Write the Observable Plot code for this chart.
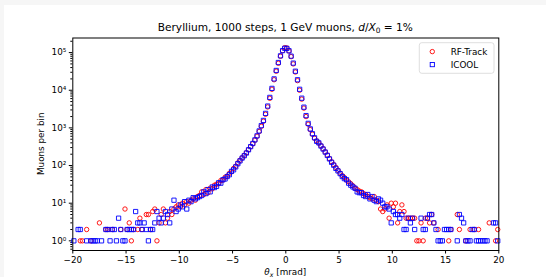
<!DOCTYPE html>
<html><head><meta charset="utf-8">
<script src="https://cdn.jsdelivr.net/npm/d3@7"></script>
<script src="https://cdn.jsdelivr.net/npm/@observablehq/plot@0.6"></script>
<style>
html,body{margin:0;padding:0;background:#f6f6f6;}
#wrap{position:relative;width:546px;height:277px;overflow:hidden;}
#bg{position:absolute;left:4px;top:5px;right:0;bottom:0;background:#fff;}
#chart{position:absolute;left:0;top:0;}
</style></head><body>
<div id="wrap"><div id="bg"></div><div id="chart"></div></div>
<script>
// histogram: 200 bins of 0.2 mrad from -20 to 20 mrad
const thetaMin = -20;
const binWidth = 0.2;

const rfTrack = [
  // -19.9 .. -0.1
  0,0,0,1,1,0,2,0,1,0, 0,0,3,0,0,2,2,0,2,0,
  0,0,2,0,7,2,3,1,2,0, 2,4,2,0,5,5,2,6,7,1,
  3,5,7,3,4,6,5,7,8,9, 8,10,9,11,10,12,13,12,15,16,
  20,17,23,19,25,24,30,32,33,40, 41,49,52,62,68,84,96,118,138,160,
  185,220,265,320,380,470,600,800,1100,1500, 2300,3600,6100,10600,19000,32000,52000,80000,112000,135000,
  // 0.1 .. 19.9
  133000,110000,78000,50000,30500,18000,10000,5800,3350,2000, 1250,900,680,530,450,395,335,280,230,190,
  153,126,106,89,75,63,54,48,41,37, 33,29,25,23,21,20,18,17,15,14,
  13,15,12,11,7,6,7,9,4,10, 8,10,3,6,9,6,4,4,4,4,
  4,1,1,3,1,4,4,3,5,3, 0,2,0,0,0,0,1,2,0,0,
  5,2,0,0,1,0,2,0,2,0, 2,0,0,0,0,3,0,0,1,2
];
const icool = [
  // -19.9 .. -0.1
  1,0,2,2,0,0,1,0,1,1, 1,1,0,1,0,2,2,1,2,2,
  1,4,2,1,1,2,2,2,2,6, 3,3,2,3,2,1,2,2,3,6,
  4,3,4,6,5,3,7,12,6,7, 9,8,11,7,12,11,14,13,14,15,
  16,20,18,23,20,27,26,28,35,34, 42,44,51,57,70,77,92,112,133,158,
  182,215,262,318,385,480,615,830,1150,1580, 2430,3800,6450,11200,20000,33500,54500,82000,113000,130000,
  // 0.1 .. 19.9
  129000,112000,80500,52500,32000,19000,10600,6150,3550,2120, 1320,940,700,545,440,400,330,275,228,186,
  150,122,102,84,72,61,51,45,42,34, 30,27,25,20,19,19,16,15,17,13,
  15,12,11,13,12,10,8,8,7,3, 6,5,5,4,5,2,2,4,3,4,
  2,0,0,4,2,2,4,5,5,3, 2,1,1,1,2,2,2,2,0,0,
  1,5,4,3,1,1,1,2,2,1, 1,1,1,1,1,0,0,3,3,1
];

const seriesNames = ["RF-Track", "ICOOL"];
const seriesColors = ["#ff0000", "#0000ff"];
const xTicks = [-20, -15, -10, -5, 0, 5, 10, 15, 20];
const yTicks = [1, 10, 100, 1000, 10000, 100000];
const yTickLabels = ["10\u2070", "10\u00b9", "10\u00b2", "10\u00b3", "10\u2074", "10\u2075"];
const yMinorTicks = [0.6,0.7,0.8,0.9, 2,3,4,5,6,7,8,9, 20,30,40,50,60,70,80,90,
  200,300,400,500,600,700,800,900, 2000,3000,4000,5000,6000,7000,8000,9000,
  20000,30000,40000,50000,60000,70000,80000,90000, 200000];
const titleText = "Beryllium, 1000 steps, 1 GeV muons, ";
const yLabel = "Muons per bin";

const rows = (vals, series) => vals
  .map((v, i) => ({theta: thetaMin + binWidth * (i + 0.5), count: v, series}))
  .filter(d => d.count > 0);

const W = 546, H = 277, L = 72.3, R = 498.3, T = 37.5, B = 250;
const fmtX = d => d < 0 ? "\u2212" + Math.abs(d) : String(d);
const fmtY = d => yTickLabels[yTicks.indexOf(d)];
const hasAxisMarks = typeof Plot.axisY === "function";

const axisMarks = hasAxisMarks ? [
  Plot.axisX({ticks: xTicks, tickFormat: fmtX, tickSize: 3.5, tickPadding: 3, label: null}),
  Plot.axisY({ticks: yTicks, tickFormat: fmtY, tickSize: 3.5, tickPadding: 3, label: null}),
  Plot.axisY({ticks: yMinorTicks, tickFormat: () => "", tickSize: 2, label: null})
] : [
  Plot.ruleY(yMinorTicks, {y: d => d, x1: -20, x2: -20 - 2 / 10.65, stroke: "#000"})
];

const plot = Plot.plot({
  width: W, height: H,
  marginLeft: L, marginRight: W - R, marginTop: T, marginBottom: H - B,
  style: {background: "transparent", fontFamily: "'DejaVu Sans', sans-serif", fontSize: "8.8px", color: "#000"},
  x: {domain: [-20, 20], ticks: xTicks, tickFormat: fmtX, tickSize: 3.5, tickPadding: 3, label: null},
  y: {type: "log", domain: [0.554, 2.44e5], ticks: yTicks, tickFormat: fmtY, tickSize: 3.5, tickPadding: 3, label: null},
  marks: [
    ...axisMarks,
    Plot.dot(rows(rfTrack, seriesNames[0]), {x: "theta", y: "count", r: 2.2, stroke: seriesColors[0], strokeWidth: 0.9, fill: "none"}),
    Plot.dot(rows(icool, seriesNames[1]), {x: "theta", y: "count", r: 2.4, symbol: "square", stroke: seriesColors[1], strokeWidth: 0.9, fill: "none"}),
    Plot.frame({stroke: "#000", strokeWidth: 1})
  ]
});
document.getElementById("chart").appendChild(plot);

const svg = d3.select(plot.tagName.toLowerCase() === "svg" ? plot : plot.querySelector("svg"));
const font = "'DejaVu Sans', sans-serif";

// title
const t = svg.append("text").attr("x", (L + R) / 2).attr("y", 30.5)
  .attr("text-anchor", "middle").style("font-family", font).style("font-size", "10.6px")
  .style("white-space", "pre").attr("fill", "#000");
t.append("tspan").text(titleText);
t.append("tspan").attr("font-style", "italic").text("d");
t.append("tspan").text("/");
t.append("tspan").attr("font-style", "italic").text("X");
t.append("tspan").attr("font-size", "7.4px").attr("dy", 2.2).text("0");
t.append("tspan").attr("dy", -2.2).text(" = 1%");

// x label
const xl = svg.append("text").attr("x", (L + R) / 2).attr("y", 275)
  .attr("text-anchor", "middle").style("font-family", font).style("font-size", "8.8px")
  .style("white-space", "pre").attr("fill", "#000");
xl.append("tspan").attr("font-style", "italic").text("\u03b8");
xl.append("tspan").attr("font-style", "italic").attr("font-size", "6.2px").attr("dy", 1.8).text("x");
xl.append("tspan").attr("dy", -1.8).text(" [mrad]");

// y label
svg.append("text").attr("transform", `translate(40.7,${(T + B) / 2}) rotate(-90)`)
  .attr("text-anchor", "middle").attr("dy", "0.35em")
  .style("font-family", font).style("font-size", "8.8px").attr("fill", "#000").text(yLabel);

// legend
const lg = svg.append("g");
lg.append("rect").attr("x", 419.3).attr("y", 42.7).attr("width", 74.7).attr("height", 30.6)
  .attr("rx", 2.5).attr("fill", "#fff").attr("fill-opacity", 0.8).attr("stroke", "#d6d6d6").attr("stroke-width", 0.8);
lg.append("circle").attr("cx", 432.3).attr("cy", 51.6).attr("r", 2.2)
  .attr("fill", "none").attr("stroke", seriesColors[0]).attr("stroke-width", 0.9);
lg.append("rect").attr("x", 432.3 - 2.1).attr("y", 64.6 - 2.1).attr("width", 4.2).attr("height", 4.2)
  .attr("fill", "none").attr("stroke", seriesColors[1]).attr("stroke-width", 0.9);
[[seriesNames[0], 51.6], [seriesNames[1], 64.6]].forEach(([s, y]) => {
  lg.append("text").attr("x", 450.7).attr("y", y).attr("dy", "0.35em").attr("text-anchor", "start")
    .style("font-family", font).style("font-size", "8.8px").attr("fill", "#000").text(s);
});
</script>
</body></html>
